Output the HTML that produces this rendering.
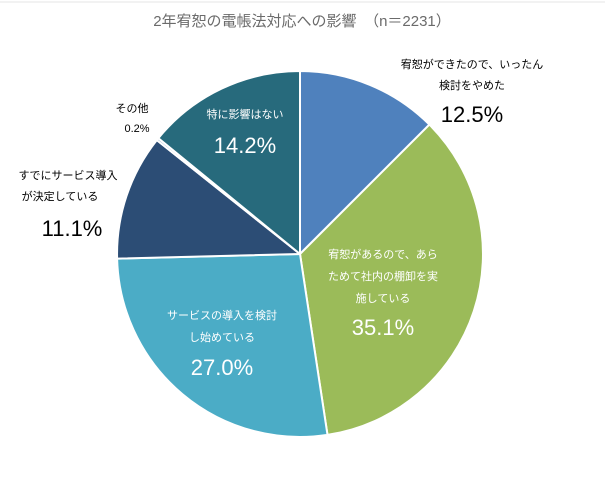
<!DOCTYPE html>
<html><head><meta charset="utf-8"><style>
body{margin:0;background:#fff;}
svg text{font-family:"Liberation Sans","Noto Sans CJK JP",sans-serif;}
</style></head><body>
<svg width="605" height="475" viewBox="0 0 605 475">
<rect x="0" y="0" width="605" height="475" fill="#fff"/>
<line x1="0" y1="2" x2="605" y2="2" stroke="#e4e4e4" stroke-width="1"/>
<text x="302" y="26" text-anchor="middle" font-size="15" fill="#6b6b6b">2年宥恕の電帳法対応への影響　（n＝2231）</text>
<g stroke="#fff" stroke-width="2" stroke-linejoin="round">
<path d="M300,254 L300,71 A183,183 0 0 1 429.4,124.6 Z" fill="#4F81BD"/>
<path d="M300,254 L429.4,124.6 A183,183 0 0 1 327.5,434.9 Z" fill="#9BBB59"/>
<path d="M300,254 L327.5,434.9 A183,183 0 0 1 117.1,258.6 Z" fill="#4BACC6"/>
<path d="M300,254 L117.1,258.6 A183,183 0 0 1 156.8,140.1 Z" fill="#2C4D75"/>
<path d="M300,254 L156.8,140.1 A183,183 0 0 1 158.3,138.2 Z" fill="#8EA9C8"/>
<path d="M300,254 L158.3,138.2 A183,183 0 0 1 300,71 Z" fill="#276A7C"/>
</g>
<g fill="#000">
<text x="472" y="68" text-anchor="middle" font-size="11">宥恕ができたので、いったん</text>
<text x="472" y="89" text-anchor="middle" font-size="11">検討をやめた</text>
<text x="472" y="122" text-anchor="middle" font-size="22">12.5%</text>
<text x="132" y="112" text-anchor="middle" font-size="11">その他</text>
<text x="137" y="132" text-anchor="middle" font-size="11">0.2%</text>
<text x="68" y="179" text-anchor="middle" font-size="11">すでにサービス導入</text>
<text x="60" y="200" text-anchor="middle" font-size="11">が決定している</text>
<text x="72" y="236" text-anchor="middle" font-size="22">11.1%</text>
</g>
<g fill="#fff">
<text x="245" y="118" text-anchor="middle" font-size="11">特に影響はない</text>
<text x="245" y="153" text-anchor="middle" font-size="22">14.2%</text>
<text x="383" y="258" text-anchor="middle" font-size="11">宥恕があるので、あら</text>
<text x="383" y="280" text-anchor="middle" font-size="11">ためて社内の棚卸を実</text>
<text x="383" y="302" text-anchor="middle" font-size="11">施している</text>
<text x="383" y="335" text-anchor="middle" font-size="22">35.1%</text>
<text x="222" y="319" text-anchor="middle" font-size="11">サービスの導入を検討</text>
<text x="222" y="341" text-anchor="middle" font-size="11">し始めている</text>
<text x="222" y="375" text-anchor="middle" font-size="22">27.0%</text>
</g>
</svg>
</body></html>
